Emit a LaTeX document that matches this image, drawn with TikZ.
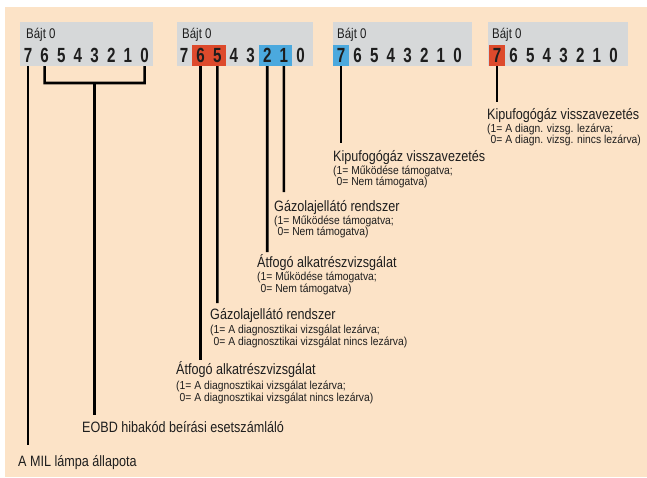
\documentclass[tikz,border=0pt]{standalone}
\usepackage{fontspec}
\setmainfont{Liberation Sans}
\newfontfamily\condf[FakeStretch=0.84]{Liberation Sans}
\newfontfamily\subf[FakeStretch=0.89]{Liberation Sans}
\newfontfamily\bajtf[FakeStretch=0.82]{Liberation Sans}
\newfontfamily\digf[FakeStretch=0.74]{Liberation Sans}
\definecolor{bgpeach}{HTML}{FCE3C7}
\definecolor{boxgray}{HTML}{D6D8D9}
\definecolor{hred}{HTML}{DD4A2C}
\definecolor{hblue}{HTML}{4BA9DE}
\definecolor{txt}{HTML}{1E1E1E}
\tikzset{
  dig/.style={inner sep=0pt, minimum width=16.6pt, minimum height=21pt, font=\digf\bfseries\fontsize{20.5}{21}\selectfont, text=txt},
  bajt/.style={inner sep=0pt, anchor=base west, font=\bajtf\fontsize{14}{15}\selectfont, text=txt},
  ttl/.style={inner sep=0pt, anchor=base west, font=\condf\fontsize{15}{16}\selectfont, text=txt},
  sub/.style={inner sep=0pt, anchor=base west, font=\subf\fontsize{11.6}{12}\selectfont, text=txt},
  conn/.style={line width=2.6pt, black},
}
\begin{document}
\begin{tikzpicture}[x=1pt,y=-1pt]
\useasboundingbox (0,0) rectangle (647,477);
\fill[white] (0,0) rectangle (647,477);
\fill[bgpeach] (5,7) rectangle (647,477);
% gray boxes
\fill[boxgray] (20,22) rectangle (153,66);
\fill[boxgray] (177,22) rectangle (313,66);
\fill[boxgray] (333,22) rectangle (472,66);
\fill[boxgray] (488,22) rectangle (628,66);
\node[bajt] (t1) at (26,38) {Bájt 0};
\node[bajt] (t2) at (182,38) {Bájt 0};
\node[bajt] (t3) at (337,38) {Bájt 0};
\node[bajt] (t4) at (492,38) {Bájt 0};
% digits
\foreach \d/\c [count=\i from 0] in {7/none,6/none,5/none,4/none,3/none,2/none,1/none,0/none}
  \node[dig, fill=\c] (a\d) at (28+\i*16.65,55.5) {\d};
\foreach \d/\c [count=\i from 0] in {7/none,6/hred,5/hred,4/none,3/none,2/hblue,1/hblue,0/none}
  \node[dig, fill=\c] (b\d) at (184+\i*16.65,55.5) {\d};
\foreach \d/\c [count=\i from 0] in {7/hblue,6/none,5/none,4/none,3/none,2/none,1/none,0/none}
  \node[dig, fill=\c] (c\d) at (341+\i*16.65,55.5) {\d};
\foreach \d/\c [count=\i from 0] in {7/hred,6/none,5/none,4/none,3/none,2/none,1/none,0/none}
  \node[dig, fill=\c] (d\d) at (497+\i*16.65,55.5) {\d};
% line end coordinates
\coordinate (milend) at (28,445);
\coordinate (brl) at (44.65,83);
\coordinate (brr) at (144.55,83);
\coordinate (brm) at (94.6,83);
\coordinate (eobdend) at (94.6,415);
\coordinate (b6end) at (200.65,360);
\coordinate (b5end) at (217.3,303);
\coordinate (b2end) at (267.25,252);
\coordinate (b1end) at (283.9,192);
\coordinate (c7end) at (341,143);
\coordinate (d7end) at (497,102);
% connectors
\draw[conn] (a7.south) -- (milend);
\draw[conn] (a6.south) -- (brl) -- (brr) -- (a0.south);
\draw[conn] (brm) -- (eobdend);
\draw[conn] (b6.south) -- (b6end);
\draw[conn] (b5.south) -- (b5end);
\draw[conn] (b2.south) -- (b2end);
\draw[conn] (b1.south) -- (b1end);
\draw[conn] (c7.south) -- (c7end);
\draw[conn] (d7.south) -- (d7end);
% labels
\node[ttl] (mil) at (18,466) {A MIL lámpa állapota};
\node[ttl] (eobd) at (82,432) {EOBD hibakód beírási esetszámláló};

\node[ttl] (g6) at (176,374) {Átfogó alkatrészvizsgálat};
\node[sub] (g6a) at (176,389) {(1= A diagnosztikai vizsgálat lezárva;};
\node[sub] (g6b) at (176,401) {\phantom{(}0= A diagnosztikai vizsgálat nincs lezárva)};

\node[ttl] (g5) at (210,319) {Gázolajellátó rendszer};
\node[sub] (g5a) at (210,333.5) {(1= A diagnosztikai vizsgálat lezárva;};
\node[sub] (g5b) at (210,345) {\phantom{(}0= A diagnosztikai vizsgálat nincs lezárva)};

\node[ttl] (g2) at (257,267) {Átfogó alkatrészvizsgálat};
\node[sub] (g2a) at (257,280.5) {(1= Működése támogatva;};
\node[sub] (g2b) at (257,292) {\phantom{(}0= Nem támogatva)};

\node[ttl] (g1) at (274,211) {Gázolajellátó rendszer};
\node[sub] (g1a) at (274,224.5) {(1= Működése támogatva;};
\node[sub] (g1b) at (274,235.5) {\phantom{(}0= Nem támogatva)};

\node[ttl] (g3) at (333,161) {Kipufogógáz visszavezetés};
\node[sub] (g3a) at (333,174.5) {(1= Működése támogatva;};
\node[sub] (g3b) at (333,185.5) {\phantom{(}0= Nem támogatva)};

\node[ttl] (g4) at (487,119) {Kipufogógáz visszavezetés};
\node[sub] (g4a) at (487,132.5) {(1= A diagn. vizsg. lezárva;};
\node[sub] (g4b) at (487,143.5) {\phantom{(}0= A diagn. vizsg. nincs lezárva)};
\end{tikzpicture}
\end{document}
